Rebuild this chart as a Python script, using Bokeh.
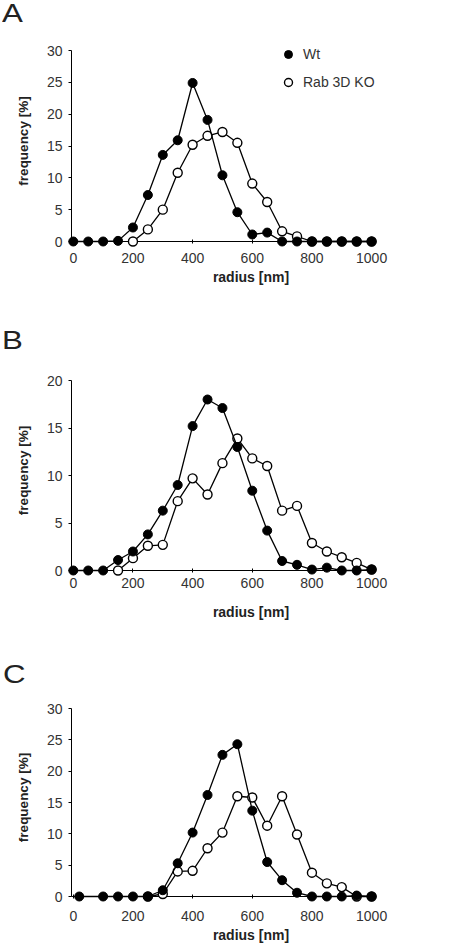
from bokeh.plotting import figure
from bokeh.layouts import column
from bokeh.models import Range1d, Legend, LegendItem, FixedTicker, Div
from bokeh.embed import file_html
from bokeh.resources import INLINE

# ---------------- data ----------------
x_ticks = [0, 200, 400, 600, 800, 1000]

# Panel A
a_wt_radius = [0, 50, 100, 150, 200, 250, 300, 350, 400, 450, 500,
               550, 600, 650, 700, 750, 800, 850, 900, 950, 1000]
a_wt_freq = [0, 0, 0, 0.1, 2.2, 7.3, 13.6, 15.9, 24.9, 19.1, 10.4,
             4.6, 1.1, 1.4, 0, 0, 0, 0, 0, 0, 0]
a_ko_radius = [200, 250, 300, 350, 400, 450, 500, 550, 600, 650, 700,
               750, 800, 850, 900, 950, 1000]
a_ko_freq = [0, 1.9, 5.0, 10.8, 15.2, 16.6, 17.2, 15.5, 9.1, 6.2, 1.6,
             0.8, 0, 0, 0, 0, 0]
a_y_ticks = [0, 5, 10, 15, 20, 25, 30]

# Panel B
b_wt_radius = [0, 50, 100, 150, 200, 250, 300, 350, 400, 450, 500,
               550, 600, 650, 700, 750, 800, 850, 900, 950, 1000]
b_wt_freq = [0, 0, 0, 1.1, 2.0, 3.8, 6.3, 9.0, 15.2, 18.0, 17.1,
             13.0, 8.4, 4.2, 1.0, 0.6, 0.1, 0.3, 0, 0, 0.1]
b_ko_radius = [150, 200, 250, 300, 350, 400, 450, 500, 550, 600, 650,
               700, 750, 800, 850, 900, 950, 1000]
b_ko_freq = [0, 1.3, 2.6, 2.7, 7.3, 9.7, 8.0, 11.3, 13.9, 11.8, 11.0,
             6.3, 6.8, 2.9, 2.0, 1.4, 0.8, 0.1]
b_y_ticks = [0, 5, 10, 15, 20]

# Panel C
c_wt_radius = [20, 100, 150, 200, 250, 300, 350, 400, 450, 500, 550,
               600, 650, 700, 750, 800, 850, 900, 950, 1000]
c_wt_freq = [0, 0, 0, 0, 0, 1.0, 5.3, 10.2, 16.2, 22.6, 24.3,
             13.7, 5.5, 2.6, 0.6, 0, 0, 0, 0.15, 0]
c_ko_radius = [250, 300, 350, 400, 450, 500, 550, 600, 650, 700, 750,
               800, 850, 900, 950, 1000]
c_ko_freq = [0, 0.4, 4.0, 4.1, 7.7, 10.2, 16.0, 15.8, 11.3, 16.0, 9.9,
             3.8, 2.1, 1.5, 0, 0]
c_y_ticks = [0, 5, 10, 15, 20, 25, 30]

series_names = ["Wt", "Rab 3D KO"]
panel_letters = ["A", "B", "C"]
x_label = "radius [nm]"
y_label = "frequency [%]"

FONT = "Liberation Sans"
TXT = "#333333"
FIG_W = 470
FRAME_L, FRAME_R = 71, 430          # page px (page has no margin)
X_START, X_AXIS_END = -6, 1003
SX = 301 / (X_AXIS_END - X_START)   # px per nm
X_END = X_START + (FRAME_R - FRAME_L) / SX


def make_panel(wx, wy, kx, ky, y_ticks, fig_top, fig_h, frame_top, axis_top,
               frame_bot, tick_st, lab_st, legend=False):
    y_max = y_ticks[-1]
    sy = (frame_bot - axis_top) / y_max
    y_end = y_max + (axis_top - frame_top) / sy
    p = figure(width=FIG_W, height=fig_h,
               x_range=Range1d(X_START, X_END), y_range=Range1d(0, y_end),
               min_border_left=FRAME_L, min_border_right=FIG_W - FRAME_R,
               min_border_top=frame_top - fig_top,
               min_border_bottom=fig_top + fig_h - frame_bot,
               output_backend="svg", toolbar_location=None)
    p.outline_line_color = None
    p.grid.visible = False
    p.background_fill_color = "white"
    p.border_fill_color = "white"

    xa = p.xaxis[0]
    xa.ticker = FixedTicker(ticks=x_ticks)
    xa.bounds = (X_START, X_AXIS_END)
    xa.axis_label = x_label
    xa.axis_line_color = "black"
    xa.major_tick_line_color = "black"
    xa.major_tick_in = 2
    xa.major_tick_out = 2
    xa.minor_tick_line_color = None
    xa.major_label_standoff = tick_st
    xa.axis_label_standoff = lab_st
    xa.major_label_text_font = FONT
    xa.major_label_text_font_size = "14px"
    xa.major_label_text_color = TXT
    xa.axis_label_text_font = FONT
    xa.axis_label_text_font_size = "14px"
    xa.axis_label_text_font_style = "bold"
    xa.axis_label_text_color = "#222222"
    xa.axis_label_align = "center"

    ya = p.yaxis[0]
    ya.ticker = FixedTicker(ticks=y_ticks)
    ya.bounds = (0, y_max)
    ya.axis_label = y_label
    ya.axis_line_color = "black"
    ya.major_tick_line_color = "black"
    ya.major_tick_in = 0
    ya.major_tick_out = 3
    ya.minor_tick_line_color = None
    ya.major_label_standoff = 6
    ya.axis_label_standoff = 13
    ya.major_label_text_font = FONT
    ya.major_label_text_font_size = "14px"
    ya.major_label_text_color = TXT
    ya.axis_label_text_font = FONT
    ya.axis_label_text_font_size = "13.5px"
    ya.axis_label_text_font_style = "bold"
    ya.axis_label_text_color = "#222222"

    p.line(kx, ky, line_color="black", line_width=1.3, level="annotation")
    sk = p.scatter(kx, ky, size=9, fill_color="white", line_color="black",
                   line_width=1.4, level="annotation")
    p.line(wx, wy, line_color="black", line_width=1.3, level="annotation")
    sw = p.scatter(wx, wy, size=9, fill_color="black", line_color="black",
                   line_width=1, level="annotation")

    if legend:
        leg = Legend(items=[LegendItem(label=series_names[0], renderers=[sw]),
                            LegendItem(label=series_names[1], renderers=[sk])],
                     location=(207, frame_bot - 44 - 48),
                     padding=0, margin=0, spacing=8, glyph_width=20,
                     glyph_height=20, label_height=20, label_width=100,
                     label_standoff=5,
                     border_line_color=None, background_fill_alpha=0,
                     label_text_font=FONT, label_text_font_size="14px",
                     label_text_color=TXT)
        p.add_layout(leg)
    return p


def letter_div(letter, pad_left):
    html = ('<div style="font-family:\'Liberation Sans\';font-size:25px;'
            'line-height:26px;color:#222222;margin:0;padding:0 0 0 %dpx;">'
            '<span style="display:inline-block;transform:scaleX(1.25);'
            'transform-origin:left center;">%s</span></div>'
            % (pad_left, letter))
    return Div(text=html, width=FIG_W, height=30, margin=0)


dA = letter_div(panel_letters[0], 2)
pA = make_panel(a_wt_radius, a_wt_freq, a_ko_radius, a_ko_freq, a_y_ticks,
                30, 297, 40, 50, 241, 9, 3, legend=True)
dB = letter_div(panel_letters[1], 2)
pB = make_panel(b_wt_radius, b_wt_freq, b_ko_radius, b_ko_freq, b_y_ticks,
                357, 304, 370, 380, 570, 5, 13)
dC = letter_div(panel_letters[2], 3)
pC = make_panel(c_wt_radius, c_wt_freq, c_ko_radius, c_ko_freq, c_y_ticks,
                691, 255, 698, 708, 896, 12, 3)

layout = column(dA, pA, dB, pB, dC, pC, spacing=0)
open("out.html", "w").write(file_html(layout, INLINE))
